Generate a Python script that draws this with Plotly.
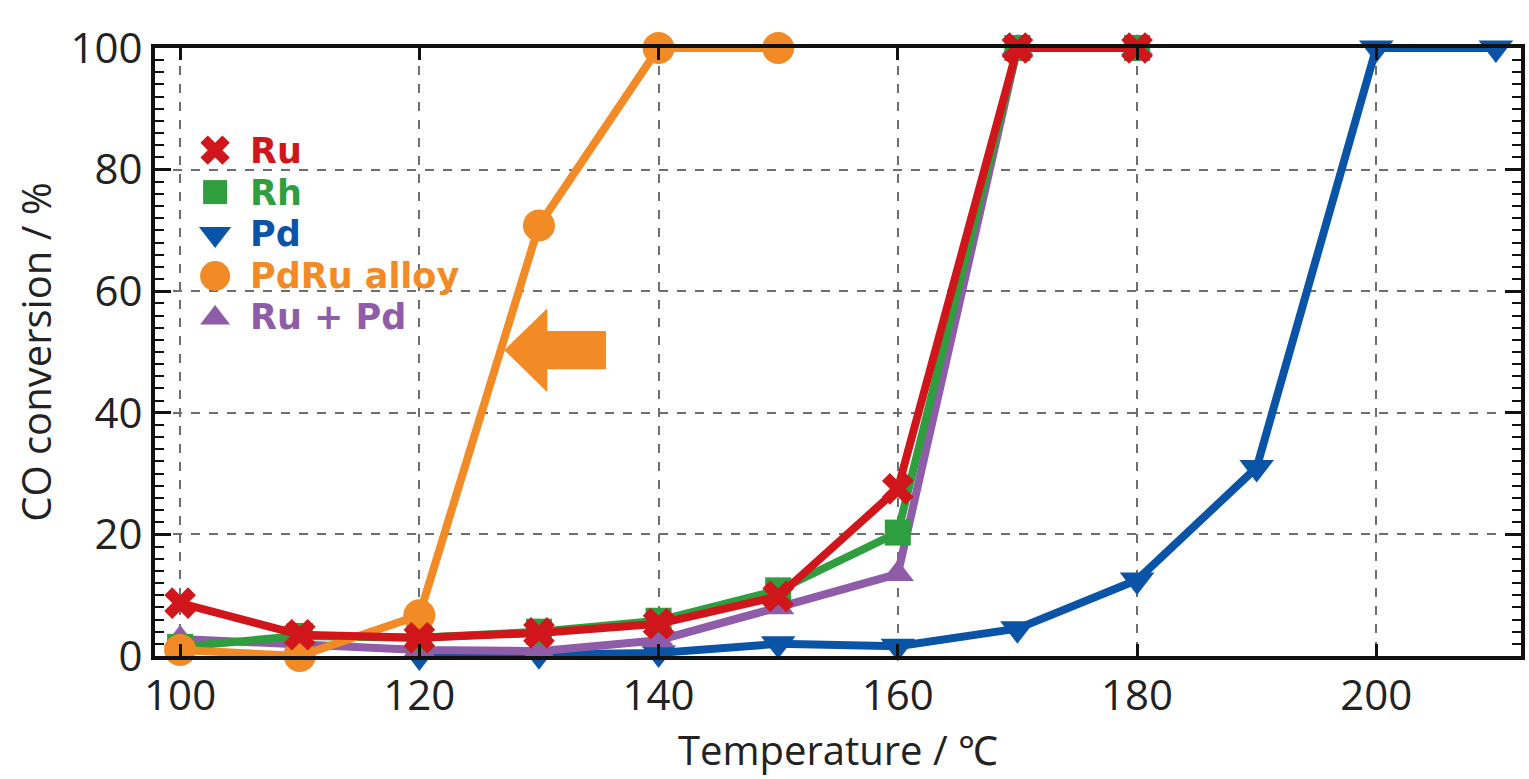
import plotly.graph_objects as go

# ---------------- data ----------------
temp_ru = [100, 110, 120, 130, 140, 150, 160, 170, 180]
conv_ru = [8.7, 3.5, 3.0, 3.8, 5.3, 9.8, 27.5, 100, 100]

temp_rh = [100, 110, 120, 130, 140, 150, 160, 170, 180]
conv_rh = [1.5, 3.3, 3.0, 4.0, 5.8, 10.8, 20.3, 100, 100]

temp_pd = [120, 130, 140, 150, 160, 170, 180, 190, 200, 210]
conv_pd = [0.0, 0.2, 0.5, 2.0, 1.6, 4.5, 12.5, 31.0, 100, 100]

temp_pdru = [100, 110, 120, 130, 140, 150]
conv_pdru = [1.0, 0.0, 6.7, 70.8, 100, 100]

temp_rupd = [100, 110, 120, 130, 140, 150, 160, 170, 180]
conv_rupd = [2.8, 2.0, 1.0, 0.8, 2.6, 8.0, 13.5, 100, 100]

series_names = ["Ru", "Rh", "Pd", "PdRu alloy", "Ru + Pd"]
series_colors = ["#d0161b", "#2e9e3e", "#0a54a8", "#f28a25", "#8e5ca8"]
series_symbols = ["x", "square", "triangle-down", "circle", "triangle-up"]
series_sizes = [28, 26, 30, 32, 28]

x_ticks = [100, 120, 140, 160, 180, 200]
y_ticks = [0, 20, 40, 60, 80, 100]

# block arrow (data coordinates)
arrow_tip_x, arrow_head_base_x, arrow_tail_x = 127.1, 130.7, 135.6
arrow_mid_y, arrow_head_half, arrow_shaft_half = 50.3, 6.9, 3.15

FONT = "Open Sans"
LEG_FONT = "DejaVu Sans"

data = {
    "Ru": (temp_ru, conv_ru),
    "Rh": (temp_rh, conv_rh),
    "Pd": (temp_pd, conv_pd),
    "PdRu alloy": (temp_pdru, conv_pdru),
    "Ru + Pd": (temp_rupd, conv_rupd),
}

fig = go.Figure()

# draw order bottom -> top
order = ["Pd", "Ru + Pd", "Rh", "PdRu alloy", "Ru"]
for name in order:
    i = series_names.index(name)
    xs, ys = data[name]
    fig.add_trace(go.Scatter(
        x=xs, y=ys, mode="lines+markers", name=name, showlegend=False,
        line=dict(color=series_colors[i], width=8),
        marker=dict(symbol=series_symbols[i], size=series_sizes[i],
                    color=series_colors[i], line=dict(width=0)),
        cliponaxis=False,
    ))

# legend drawn on an overlay axis in fractional coordinates
leg_x0 = 0.044
leg_text_x = 0.069
leg_y0 = 0.832
leg_step = 0.069
for i, name in enumerate(series_names):
    fig.add_trace(go.Scatter(
        x=[leg_x0], y=[leg_y0 - i * leg_step], xaxis="x2", yaxis="y2",
        mode="markers", showlegend=False,
        marker=dict(symbol=series_symbols[i], size=series_sizes[i] - 2,
                    color=series_colors[i], line=dict(width=0)),
        cliponaxis=False, hoverinfo="skip",
    ))

legend_text = "<br>".join(
    f"<span style='color:{c};font-size:35px'><b>{n}</b></span>"
    for n, c in zip(series_names, series_colors)
)
fig.add_annotation(
    x=leg_text_x, y=leg_y0 - 2 * leg_step, xref="x2", yref="y2",
    text=legend_text, showarrow=False, xanchor="left", yanchor="middle",
    align="left", borderpad=0,
    font=dict(family=LEG_FONT, size=32, color="#222"),
)

arrow_path = (
    f"M {arrow_tip_x} {arrow_mid_y} "
    f"L {arrow_head_base_x} {arrow_mid_y + arrow_head_half} "
    f"L {arrow_head_base_x} {arrow_mid_y + arrow_shaft_half} "
    f"L {arrow_tail_x} {arrow_mid_y + arrow_shaft_half} "
    f"L {arrow_tail_x} {arrow_mid_y - arrow_shaft_half} "
    f"L {arrow_head_base_x} {arrow_mid_y - arrow_shaft_half} "
    f"L {arrow_head_base_x} {arrow_mid_y - arrow_head_half} Z"
)
fig.add_shape(type="path", path=arrow_path, xref="x", yref="y",
              fillcolor="#f28a25", line=dict(width=0), layer="above")

fig.update_layout(
    width=1529, height=779,
    margin=dict(l=155, r=4, t=48, b=123),
    paper_bgcolor="white", plot_bgcolor="white",
    font=dict(family=FONT, color="#222"),
    showlegend=False,
    xaxis=dict(
        range=[97.9, 212.1], tickvals=x_ticks, ticks="inside", ticklen=12,
        tickwidth=3, tickcolor="#111", showline=True, linewidth=4,
        linecolor="#111", mirror="ticks",
        showgrid=True, gridcolor="#6e6e6e", griddash="dash", gridwidth=2,
        zeroline=False, tickfont=dict(family=FONT, size=42, color="#222"),
        title=dict(text="Temperature / ℃", font=dict(family=FONT, size=40, color="#222"),
                   standoff=6),
    ),
    yaxis=dict(
        range=[0, 100], tickvals=y_ticks, ticks="inside", ticklen=16,
        tickwidth=3, tickcolor="#111", showline=True, linewidth=4,
        linecolor="#111", mirror="ticks",
        minor=dict(dtick=2, ticks="inside", ticklen=9, tickwidth=2, tickcolor="#111",
                   showgrid=False),
        showgrid=True, gridcolor="#6e6e6e", griddash="dash", gridwidth=2,
        zeroline=False, tickfont=dict(family=FONT, size=42, color="#222"),
        title=dict(text="CO conversion / %", font=dict(family=FONT, size=40, color="#222"),
                   standoff=8),
    ),
    xaxis2=dict(overlaying="x", range=[0, 1], visible=False, anchor="y2"),
    yaxis2=dict(overlaying="y", range=[0, 1], visible=False, anchor="x2"),
)

fig.write_html("out.html")
